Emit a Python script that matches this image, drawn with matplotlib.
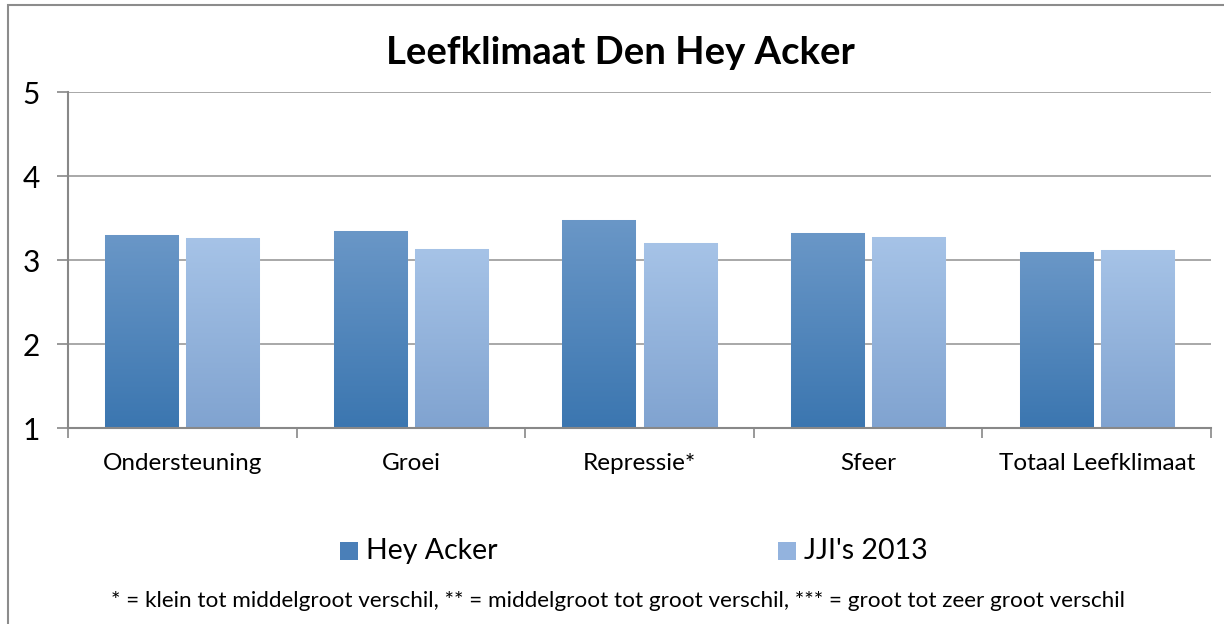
import numpy as np
import matplotlib
matplotlib.use("Agg")
import matplotlib.pyplot as plt
from matplotlib.patches import Rectangle
from matplotlib.colors import LinearSegmentedColormap

plt.rcParams['font.family'] = ['Lato', 'DejaVu Sans']

categories = ['Ondersteuning', 'Groei', 'Repressie*', 'Sfeer', 'Totaal Leefklimaat']
hey_acker = [3.30, 3.35, 3.48, 3.32, 3.09]
jji_2013 = [3.26, 3.13, 3.20, 3.27, 3.12]
series_names = ['Hey Acker', "JJI's 2013"]
yticks = [1, 2, 3, 4, 5]
title = 'Leefklimaat Den Hey Acker'
footnote = ('* = klein tot middelgroot verschil, ** = middelgroot tot groot verschil, '
            '*** = groot tot zeer groot verschil')

# gradient colours (top, bottom) and flat legend colours
GRAD_HEY = ('#6a97c7', '#3b76b0')
GRAD_JJI = ('#a6c3e7', '#80a3d0')
FLAT = ['#4a7fb8', '#93b3de']

fig = plt.figure(figsize=(12.24, 6.24), dpi=100)
ax = fig.add_axes([68 / 1224, 1 - 428 / 624, (1211 - 68) / 1224, (428 - 92) / 624])

x = np.arange(len(categories))
width = 0.32
gap = 0.035
bars1 = ax.bar(x - (width + gap) / 2, np.array(hey_acker) - 1, width, bottom=1,
               color=FLAT[0], edgecolor='#dce8f5', linewidth=0.8, zorder=2)
bars2 = ax.bar(x + (width + gap) / 2, np.array(jji_2013) - 1, width, bottom=1,
               color=FLAT[1], edgecolor='#e6eef8', linewidth=0.8, zorder=2)

# vertical gradient inside each bar
grad = np.linspace(0, 1, 256).reshape(-1, 1)
for bars, cols in ((bars1, GRAD_HEY), (bars2, GRAD_JJI)):
    cmap = LinearSegmentedColormap.from_list('g', [cols[1], cols[0]])
    for b in bars:
        x0, y0 = b.get_x(), b.get_y()
        im = ax.imshow(grad, cmap=cmap, origin='lower', aspect='auto',
                       extent=(x0, x0 + b.get_width(), y0, y0 + b.get_height()),
                       zorder=2.5)
        im.set_clip_path(b)

ax.set_xlim(-0.5, len(categories) - 0.5)
ax.set_ylim(1, 5)
ax.set_yticks(yticks)
ax.set_yticklabels([str(t) for t in yticks], fontsize=21.5)
ax.yaxis.grid(True, color='#9a9a9a', linewidth=1.2, zorder=0)
ax.set_axisbelow(True)

ax.set_xticks(np.arange(len(categories) + 1) - 0.5, minor=False)
ax.set_xticklabels([])
ax.set_xticks(x, minor=True)
ax.set_xticklabels(categories, minor=True, fontsize=17.5)
ax.tick_params(axis='x', which='major', length=7, width=1.2, color='#888888', direction='out')
ax.tick_params(axis='x', which='minor', length=0, pad=18)
ax.tick_params(axis='y', length=8, width=1.2, color='#888888', pad=12)

for s in ['top', 'right']:
    ax.spines[s].set_visible(False)
for s in ['left', 'bottom']:
    ax.spines[s].set_color('#888888')
    ax.spines[s].set_linewidth(1.5)

fig.text(620 / 1224, 1 - 53 / 624, title, ha='center', va='center',
         fontsize=27.5, fontweight='bold')

# legend
leg_y = 1 - 551 / 624
for i, (name, xpos) in enumerate(zip(series_names, [349, 787])):
    fig.patches.append(Rectangle(((xpos - 9) / 1224, leg_y - 9 / 624), 18 / 1224, 18 / 624,
                                 transform=fig.transFigure, facecolor=FLAT[i],
                                 edgecolor='none'))
    fig.text((xpos + 17) / 1224, leg_y, name, ha='left', va='center', fontsize=20.5)

fig.text(618 / 1224, 1 - 601 / 624, footnote, ha='center', va='center', fontsize=16.2)

# chart border
fig.patches.append(Rectangle((8 / 1224, -0.05), 1.1, 1 - 5 / 624 + 0.05,
                             transform=fig.transFigure, fill=False,
                             edgecolor='#8c8c8c', linewidth=1.5))

fig.savefig('out.png', dpi=100)
